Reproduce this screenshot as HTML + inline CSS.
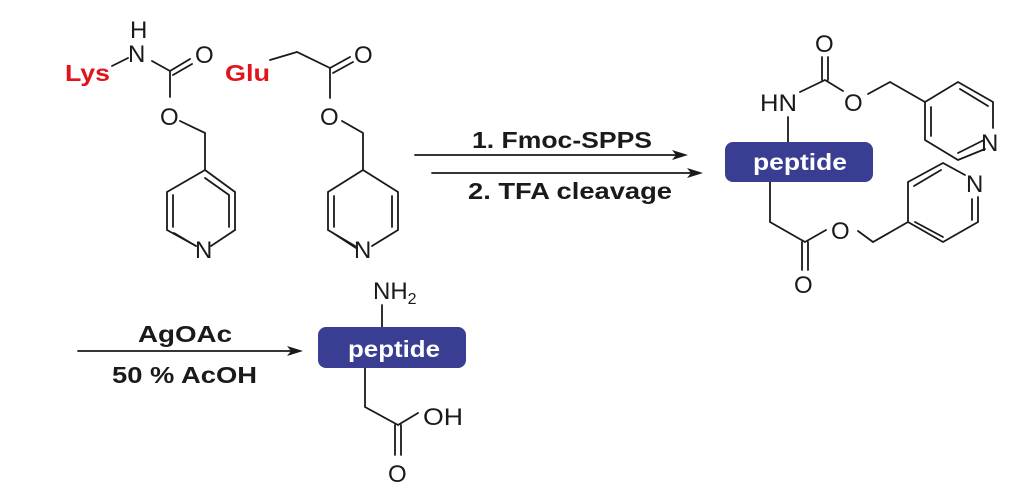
<!DOCTYPE html>
<html><head><meta charset="utf-8"><style>
html,body{margin:0;padding:0;background:#fff;}
svg{display:block;}
text{font-family:"Liberation Sans",Arial,sans-serif;}
.a{font-size:24px;fill:#1a1a1a;}
.b{font-size:23px;font-weight:bold;fill:#1a1a1a;}
.r{font-size:23px;font-weight:bold;fill:#e0141b;}
.w{font-size:23px;font-weight:bold;fill:#fff;}
</style></head><body>
<svg width="1032" height="494" viewBox="0 0 1032 494" xmlns="http://www.w3.org/2000/svg">
<g stroke="#1a1a1a" stroke-width="1.8" fill="none" stroke-linecap="round">
<path d="M112,66 L128,58 M152,61 L170,71 L190,59 M173,75 L192,64 M170,71 L170,97 M180,121 L205,133 L205,170"/>
<path d="M205,170 L235,192 L235,230 M196,246 L167,230 L167,192 L205,170"/>
<path d="M211,246 L235,230 M205,178 L229,195 M229,195 L229,227 M173,195 L173,227 M174,233 L196,246"/>
<path d="M270,60 L297,52 L330,68 L350,57 M333,73 L353,62 M330,68 L330,98 M342,121 L363,133 L363,170"/>
<path d="M363,170 L398,192 L398,230 L372,246 M355,246 L328,230 L328,192 L363,170 M392,196 L392,227 M334,196 L334,227 M333,233 L356,248"/>
<path d="M415,155 L680,155 M432,173 L695,173 M78,351 L295,351"/>
<path d="M788,117 L788,142 M800,92 L825,80 L843,91 M822,80 L822,57 M828,80 L828,57 M868,94 L890,82 L925,102"/>
<path d="M925,102 L958,82 L993,102 L993,128 M985,149 L958,160 L925,140 L925,102 M931,107 L931,136 M960,89 L988,106 M958,153 L984,140"/>
<path d="M770,182 L770,222 L805,242 L826,230 M802,242 L802,270 M808,242 L808,270 M858,231 L873,242 L908,222 L908,182 L943,163 L965,175 M978,197 L978,222 L943,242 L908,222 M914,186 L941,170 M972,199 L972,220 M915,222 L943,237"/>
<path d="M382,305 L382,327 M365,368 L365,407 L398,425 L418,413 M395,425 L395,455 M401,425 L401,455"/>
</g>
<g fill="#1a1a1a">
<polygon points="688,155 672,150 676,155 672,160"/>
<polygon points="703,173 687,168 691,173 687,178"/>
<polygon points="303,351 287,346 291,351 287,356"/>
</g>
<text class="a" x="130" y="38">H</text>
<text class="a" x="128" y="62">N</text>
<text class="r" x="65" y="81" textLength="45" lengthAdjust="spacingAndGlyphs">Lys</text>
<text class="a" x="195" y="63">O</text>
<text class="a" x="160" y="125">O</text>
<text class="a" x="195" y="258">N</text>
<text class="r" x="225" y="81" textLength="45" lengthAdjust="spacingAndGlyphs">Glu</text>
<text class="a" x="354" y="63">O</text>
<text class="a" x="320" y="125">O</text>
<text class="a" x="354" y="258">N</text>
<text class="b" x="472" y="148" textLength="180" lengthAdjust="spacingAndGlyphs">1. Fmoc-SPPS</text>
<text class="b" x="468" y="199" textLength="204" lengthAdjust="spacingAndGlyphs">2. TFA cleavage</text>
<text class="a" x="815" y="52">O</text>
<text class="a" x="760" y="111" textLength="37" lengthAdjust="spacingAndGlyphs">HN</text>
<text class="a" x="844" y="111">O</text>
<text class="a" x="981" y="151">N</text>
<rect x="725" y="142" width="148" height="40" rx="8" fill="#393e93"/>
<text class="w" x="753" y="170" textLength="94" lengthAdjust="spacingAndGlyphs">peptide</text>
<text class="a" x="966" y="192">N</text>
<text class="a" x="831" y="239">O</text>
<text class="a" x="794" y="293">O</text>
<text class="b" x="138" y="342" textLength="94" lengthAdjust="spacingAndGlyphs">AgOAc</text>
<text class="b" x="112" y="383" textLength="145" lengthAdjust="spacingAndGlyphs">50 % AcOH</text>
<text class="a" x="373" y="299">NH<tspan font-size="16" dy="5">2</tspan></text>
<rect x="318" y="327" width="148" height="41" rx="8" fill="#393e93"/>
<text class="w" x="348" y="357" textLength="92" lengthAdjust="spacingAndGlyphs">peptide</text>
<text class="a" x="423" y="425" textLength="40" lengthAdjust="spacingAndGlyphs">OH</text>
<text class="a" x="388" y="482">O</text>
</svg>
</body></html>
